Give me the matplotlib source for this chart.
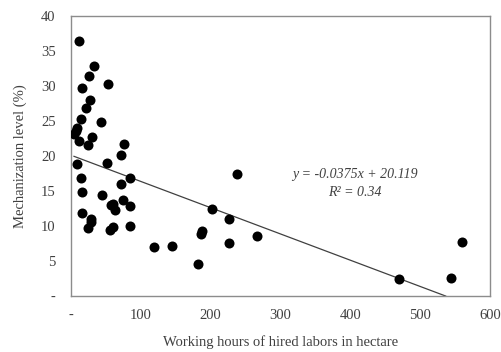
import matplotlib
matplotlib.use('Agg')
import matplotlib.pyplot as plt
import numpy as np

plt.rcParams['font.family'] = ['Liberation Serif', 'DejaVu Serif']

# datos
horas = [11.9, 33, 26.3, 15.8, 53.5, 26.7, 21.5, 13.9, 42.5, 8.1, 4.3, 6.5,
         11.9, 30, 24.8, 75.9, 72.1, 52, 8.1, 13.9, 84.5, 72.1, 15.8, 44.4,
         75, 84.5, 57.3, 60.6, 63.5, 15.8, 29, 28.2, 24.8, 55.9, 60.6, 84.5,
         118.9, 144.7, 181.5, 238.3, 202, 225.9, 187.7, 186.7, 266, 225.9,
         470.4, 544, 560]
mecan = [36.4, 32.9, 31.4, 29.7, 30.3, 28, 26.9, 25.3, 24.8, 24, 23.2, 23.6,
         22.2, 22.7, 21.6, 21.7, 20.1, 19, 18.8, 16.9, 16.9, 16, 14.8, 14.5,
         13.7, 12.8, 13, 13.1, 12.3, 11.8, 11.0, 10.6, 9.7, 9.5, 9.8, 10,
         7.0, 7.2, 4.6, 17.4, 12.5, 11.0, 9.3, 8.9, 8.6, 7.6,
         2.5, 2.6, 7.7]
pendiente = -0.0375
intercepto = 20.119
r2 = 0.34

xticks = [0, 100, 200, 300, 400, 500, 600]
xlabels = ['-', '100', '200', '300', '400', '500', '600']
yticks = [0, 5, 10, 15, 20, 25, 30, 35, 40]
ylabels = ['-', '5', '10', '15', '20', '25', '30', '35', '40']

fig = plt.figure(figsize=(5.01, 3.52), dpi=100)
ax = fig.add_axes([0.1417, 0.159, 0.978 - 0.1417, 0.9545 - 0.159])

ax.scatter(horas, mecan, s=52, color='black', zorder=3, linewidths=0)

# linea de tendencia (hasta cortar y=0)
x_fin = -intercepto / pendiente
xl = np.array([min(horas), x_fin])
ax.plot(xl, pendiente * xl + intercepto, color='#404040', lw=0.9, zorder=2)

ax.set_xlim(0, 600)
ax.set_ylim(0, 40)
ax.set_xticks(xticks)
ax.set_xticklabels(xlabels)
ax.set_yticks(yticks)
ax.set_yticklabels(ylabels)
ax.tick_params(length=0, labelsize=10.5, colors='#404040')
ax.tick_params(axis='x', pad=9)
ax.tick_params(axis='y', pad=11)
for s in ax.spines.values():
    s.set_color('#8c8c8c')
    s.set_linewidth(1.0)

ax.set_xlabel('Working hours of hired labors in hectare', fontsize=10.5, color='#404040', labelpad=10)
ax.set_ylabel('Mechanization level (%)', fontsize=10.5, color='#404040', labelpad=10)

ax.text(355 / 501, 1 - 175 / 352, f'y = {pendiente}x + {intercepto}', transform=fig.transFigure,
        ha='center', va='center', style='italic', fontsize=10, color='#404040')
ax.text(355 / 501, 1 - 192 / 352, f'R² = {r2}', transform=fig.transFigure,
        ha='center', va='center', style='italic', fontsize=10, color='#404040')

fig.savefig('out.png', dpi=100)
